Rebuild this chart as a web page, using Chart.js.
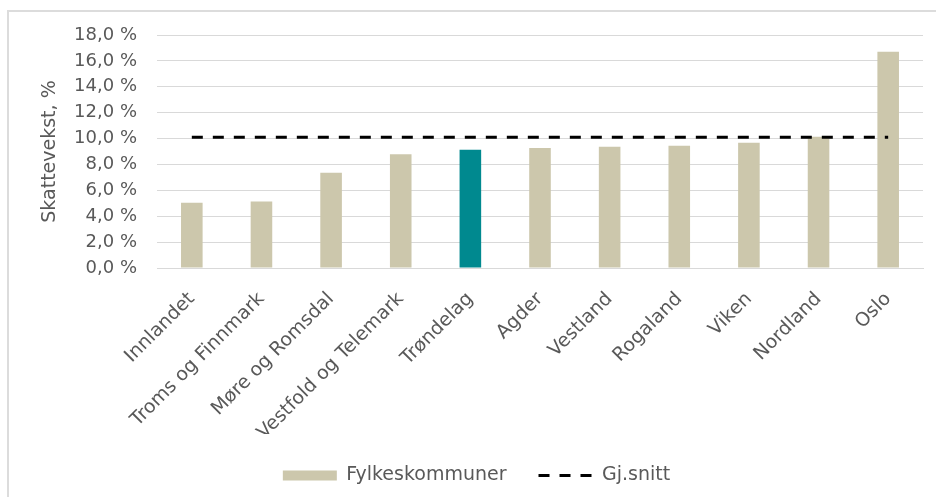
<!doctype html>
<html lang="no">
  <head>
    <meta charset="utf-8">
    <title>Skattevekst fylkeskommuner</title>
    <style>
      html, body { margin: 0; padding: 0; background: #fff; overflow: hidden; }
      .wrap { position: absolute; left: 0; top: 0; width: 936px; height: 497px; }
    </style>
  </head>
  <body>
    <div class="wrap"><canvas id="chart"></canvas></div>

    <script src="https://cdn.jsdelivr.net/npm/chart.js"></script>
    <script>
      // data
      const fylker = ['Innlandet', 'Troms og Finnmark', 'Møre og Romsdal', 'Vestfold og Telemark',
        'Trøndelag', 'Agder', 'Vestland', 'Rogaland', 'Viken', 'Nordland', 'Oslo'];
      const skattevekst = [5.05, 5.13, 7.35, 8.79, 9.13, 9.28, 9.36, 9.44, 9.67, 10.13, 16.7];
      const gjSnitt = [10.1, 10.1, 10.1, 10.1, 10.1, 10.1, 10.1, 10.1, 10.1, 10.1, 10.1];
      const yTicks = [0, 2, 4, 6, 8, 10, 12, 14, 16, 18];
      const markert = 'Trøndelag';

      const tan = '#ccc7ac';
      const teal = '#00898f';
      const grey = '#595959';
      const font = 'DejaVu Sans';

      const pct = (v) => v.toFixed(1).replace('.', ',') + ' %';

      // thin grey frame, only top and left edges are inside the picture
      const frame = {
        id: 'frame',
        beforeDraw(chart) {
          const ctx = chart.ctx;
          ctx.save();
          ctx.strokeStyle = '#dcdcdc';
          ctx.lineWidth = 2;
          ctx.beginPath();
          ctx.moveTo(8, chart.height);
          ctx.lineTo(8, 11);
          ctx.lineTo(chart.width, 11);
          ctx.stroke();
          ctx.restore();
        }
      };

      const data = {
        labels: fylker,
        datasets: [
          {
            type: 'bar',
            label: 'Fylkeskommuner',
            data: skattevekst,
            backgroundColor: fylker.map((f) => f === markert ? teal : tan),
            borderWidth: 0,
            barPercentage: 0.31,
            categoryPercentage: 1,
            order: 1
          },
          {
            type: 'line',
            label: 'Gj.snitt',
            data: gjSnitt,
            borderColor: '#000',
            borderWidth: 3,
            borderDash: [11, 10],
            pointRadius: 0,
            fill: false,
            order: 0
          }
        ]
      };

      const config = {
        type: 'bar',
        data,
        plugins: [frame],
        options: {
          responsive: true,
          maintainAspectRatio: false,
          animation: false,
          layout: { padding: { left: 30, right: 13, top: 35, bottom: 2 } },
          plugins: {
            tooltip: { enabled: false },
            legend: {
              position: 'bottom',
              labels: {
                color: grey,
                font: { family: font, size: 19 },
                usePointStyle: true,
                pointStyleWidth: 54,
                boxHeight: 10,
                padding: 32,
                sort: (a, b) => a.datasetIndex - b.datasetIndex,
                generateLabels(chart) {
                  const items = Chart.defaults.plugins.legend.labels.generateLabels(chart);
                  items.forEach((item) => {
                    if (item.datasetIndex === 0) {
                      item.pointStyle = 'rect';
                      item.fillStyle = tan;
                      item.strokeStyle = tan;
                      item.lineWidth = 0;
                    } else {
                      item.pointStyle = 'line';
                      item.strokeStyle = '#000';
                      item.lineWidth = 3;
                      item.lineDash = [11, 10];
                    }
                  });
                  return items;
                }
              }
            }
          },
          scales: {
            x: {
              grid: { display: false },
              border: { display: true, color: '#d9d9d9' },
              ticks: {
                color: grey,
                font: { family: font, size: 19 },
                minRotation: 45,
                maxRotation: 45,
                padding: 12,
                autoSkip: false
              },
              afterFit(scale) { scale.height = 166; }
            },
            y: {
              min: 0,
              max: 18,
              afterBuildTicks(scale) { scale.ticks = yTicks.map((v) => ({ value: v })); },
              grid: { color: '#d9d9d9', drawTicks: false },
              border: { display: false },
              ticks: {
                color: grey,
                font: { family: font, size: 18 },
                padding: 20,
                callback: (v) => pct(v)
              },
              title: {
                display: true,
                text: 'Skattevekst, %',
                color: grey,
                font: { family: font, size: 19 },
                padding: { top: 9, bottom: 0 }
              },
              afterFit(scale) { scale.width = 127; }
            }
          }
        }
      };

      new Chart(document.getElementById('chart'), config);
    </script>
  </body>
</html>
